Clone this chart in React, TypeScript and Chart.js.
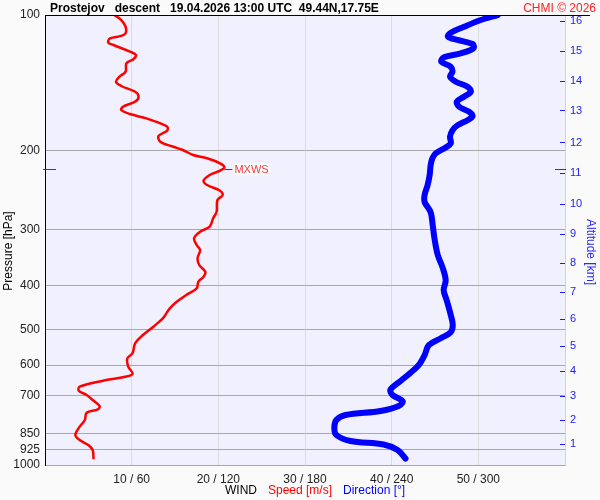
import React, { useEffect, useRef } from "react";
import { Chart, registerables } from "chart.js";

Chart.register(...registerables);

// ---- DATA ----
const speedPressure = [
  100, 102.6, 106.2, 109.8, 111.3, 112.7, 115.2, 116.6, 120.6, 122.7, 125.4, 128.0, 133.6, 137.1, 140.7,
  143.8, 148.1, 151.9, 155.8, 159.9, 162.6, 166.0, 169.7, 173.5, 177.1, 180.7, 185.7, 191.2, 196.2, 199.5,
  204.7, 208.2, 213.6, 218.0, 221.8, 226.8, 233.4, 238.7, 245.7, 251.2, 257.7, 273.6, 283.0, 295.4, 303.1,
  313.5, 324.4, 332.9, 347.3, 359.4, 371.9, 381.5, 391.4, 405.0, 419.1, 433.8, 448.7, 460.3, 472.1, 492.8,
  514.2, 536.5, 564.6, 579.2, 604.6, 627.6, 638.3, 649.5, 669.9, 683.8, 699.0, 717.1, 739.4, 752.0, 765.2,
  794.3, 822.0, 857.7, 880.0, 902.9, 926.4, 966.3,
];
const speedValues = [
  8.0, 8.8, 9.3, 9.3, 8.8, 7.5, 7.3, 7.9, 9.8, 10.5, 10.2, 9.4, 9.3, 8.6, 8.2,
  8.8, 10.4, 10.8, 10.4, 9.0, 8.8, 9.8, 11.7, 13.1, 14.1, 14.1, 13.1, 13.3, 14.8, 15.9,
  17.1, 18.7, 20.2, 20.7, 20.2, 19.0, 18.3, 18.7, 20.2, 20.5, 19.9, 19.8, 19.4, 19.0, 17.9,
  17.2, 17.5, 17.9, 17.6, 17.8, 18.5, 18.3, 17.7, 17.5, 16.3, 15.2, 14.4, 14.0, 13.6, 12.5,
  11.3, 10.4, 10.1, 9.5, 9.6, 10.1, 9.0, 6.7, 4.0, 3.9, 4.8, 5.5, 6.3, 6.1, 4.8,
  4.6, 4.0, 3.5, 4.0, 5.0, 5.5, 5.6,
];

const dirPressure = [
  100, 102.6, 106.2, 109.5, 111.7, 113.6, 116.0, 118.6, 121.7, 124.2, 127.0, 130.3, 133.7, 137.1, 140.7,
  144.3, 148.1, 151.9, 155.8, 159.9, 164.1, 167.8, 171.3, 175.9, 180.4, 186.4, 192.9, 196.9, 202.9, 208.2,
  215.4, 226.8, 238.7, 251.2, 260.2, 274.3, 292.8, 316.2, 341.5, 365.2, 388.6, 408.6, 430.4, 464.2, 488.1,
  507.1, 522.7, 541.6, 570.0, 600.0, 623.5, 650.6, 679.8, 699.0, 721.6, 739.4, 758.6, 774.3, 794.3, 827.5,
  857.7, 884.5, 900.6, 926.4, 967.7,
];
const dirValues = [
  313.5, 301.7, 290.1, 280.9, 279.0, 285.5, 296.0, 296.6, 287.8, 276.2, 274.4, 280.9, 282.1, 280.4, 284.4,
  292.5, 294.8, 290.1, 285.1, 286.7, 293.6, 296.0, 292.5, 285.5, 282.1, 280.4, 280.9, 277.4, 270.5, 268.2,
  267.0, 266.3, 264.9, 262.8, 262.8, 267.0, 268.4, 269.8, 271.9, 275.4, 277.4, 276.0, 278.1, 280.9, 282.3,
  280.9, 274.0, 265.7, 262.8, 258.7, 253.1, 246.2, 239.2, 240.6, 247.6, 244.8, 232.3, 208.0, 201.7, 200.3,
  201.7, 211.5, 234.4, 244.1, 249.6,
];

const pressureTicks = [100, 200, 300, 400, 500, 600, 700, 850, 925, 1000];
const speedGrid = [0, 10, 20, 30, 40, 50, 60];
const speedLabels = [10, 20, 30, 40, 50];
const altitudeKm = [1, 2, 3, 4, 5, 6, 7, 8, 9, 10, 11, 12, 13, 14, 15, 16];
const altitudePressure = [898, 794, 702, 618, 544, 474, 412, 356, 307, 263, 224, 192, 163, 140, 120, 103];
const maxWindSpeed = 20.7;
const maxWindPressure = 220;

const titleText = "Prostejov   descent   19.04.2026 13:00 UTC  49.44N,17.75E";
const creditText = "CHMI \u00a9 2026";

const FONT = '"Liberation Sans", Arial, sans-serif';

const decorPlugin = {
  id: "decor",
  beforeDraw(chart: any) {
    const { ctx, chartArea: a } = chart;
    ctx.save();
    ctx.fillStyle = "#fafafa";
    ctx.fillRect(0, 0, chart.width, chart.height);
    ctx.fillStyle = "#f0f0ff";
    ctx.fillRect(a.left, a.top, a.right - a.left, a.bottom - a.top);
    ctx.restore();
  },
  afterDatasetsDraw(chart: any) {
    const { ctx, chartArea: a, scales } = chart;
    const yS = scales.y;
    const xS = scales.x;
    ctx.save();
    const my = Math.round(yS.getPixelForValue(maxWindPressure)) + 0.5;
    ctx.strokeStyle = "#e00000";
    ctx.lineWidth = 1;
    ctx.beginPath();
    ctx.moveTo(a.left - 2, my);
    ctx.lineTo(a.left + 11, my);
    ctx.moveTo(a.right - 10, my);
    ctx.lineTo(a.right + 1, my);
    const px = xS.getPixelForValue(maxWindSpeed);
    ctx.moveTo(px, my);
    ctx.lineTo(px + 8, my);
    ctx.stroke();
    ctx.font = `11px ${FONT}`;
    const w = ctx.measureText("MXWS").width;
    ctx.fillStyle = "#fbfbfb";
    ctx.fillRect(px + 9, my - 6, w + 3, 12);
    ctx.fillStyle = "#f03c3c";
    ctx.textBaseline = "middle";
    ctx.fillText("MXWS", px + 10, my + 0.5);

    // altitude tick marks (inside)
    const yA = scales.yAlt;
    ctx.strokeStyle = "#1a1aff";
    ctx.beginPath();
    altitudePressure.forEach((p) => {
      const yy = Math.round(yA.getPixelForValue(p)) + 0.5;
      ctx.moveTo(a.right - 5, yy);
      ctx.lineTo(a.right, yy);
    });
    ctx.stroke();
    ctx.restore();
  },
  afterDraw(chart: any) {
    const { ctx, chartArea: a } = chart;
    ctx.save();
    // top line
    ctx.fillStyle = "#000";
    ctx.fillRect(a.left, a.top, 590 - a.left, 1);
    // title
    ctx.font = `bold 12px ${FONT}`;
    ctx.textBaseline = "alphabetic";
    ctx.textAlign = "left";
    ctx.fillText(titleText, 50, 12);
    ctx.font = `12px ${FONT}`;
    ctx.fillStyle = "#ff2020";
    ctx.textAlign = "right";
    ctx.fillText(creditText, 596, 12);
    // bottom title
    ctx.textAlign = "left";
    ctx.textBaseline = "middle";
    let x = 225;
    const parts: [string, string][] = [
      ["WIND", "#000"],
      ["Speed [m/s]", "#ff0000"],
      ["Direction [\u00b0]", "#0000ff"],
    ];
    parts.forEach(([t, c]) => {
      ctx.fillStyle = c;
      ctx.fillText(t, x, 491);
      x += ctx.measureText(t).width + 11;
    });
    // y titles
    ctx.save();
    ctx.translate(8.5, 251);
    ctx.rotate(-Math.PI / 2);
    ctx.textAlign = "center";
    ctx.fillStyle = "#000";
    ctx.fillText("Pressure [hPa]", 0, 0);
    ctx.restore();
    ctx.save();
    ctx.translate(590, 252);
    ctx.rotate(Math.PI / 2);
    ctx.textAlign = "center";
    ctx.fillStyle = "#2a2aff";
    ctx.fillText("Altitude [km]", 0, 0);
    ctx.restore();
    ctx.restore();
  },
};

export default function App() {
  const ref = useRef<HTMLCanvasElement>(null);
  useEffect(() => {
    if (!ref.current) return;
    Chart.defaults.font.family = FONT;
    const speedData = speedPressure.map((p, i) => ({ x: speedValues[i], y: p }));
    const dirData = dirPressure.map((p, i) => ({ x: dirValues[i], y: p }));
    const chart = new Chart(ref.current, {
      type: "scatter",
      data: {
        datasets: [
          {
            label: "Direction",
            data: dirData,
            xAxisID: "xDir",
            yAxisID: "y",
            showLine: true,
            borderColor: "#0000ff",
            backgroundColor: "#0000ff",
            borderWidth: 6,
            pointRadius: 0,
            tension: 0.35,
            borderCapStyle: "round",
            borderJoinStyle: "round",
          } as any,
          {
            label: "Speed",
            data: speedData,
            xAxisID: "x",
            yAxisID: "y",
            showLine: true,
            borderColor: "#ff0000",
            backgroundColor: "#ff0000",
            borderWidth: 2.5,
            pointRadius: 0,
            tension: 0.35,
            borderCapStyle: "round",
            borderJoinStyle: "round",
          } as any,
        ],
      },
      options: {
        responsive: false,
        animation: false,
        layout: { padding: { top: 15, left: 0, right: 0, bottom: 0 } },
        plugins: { legend: { display: false }, tooltip: { enabled: false } },
        scales: {
          x: {
            type: "linear",
            position: "bottom",
            min: 0,
            max: 60,
            afterBuildTicks: (s: any) => {
              s.ticks = speedGrid.map((v) => ({ value: v }));
            },
            ticks: {
              callback: (v: any) => (speedLabels.includes(Number(v)) ? `${v} / ${Number(v) * 6}` : ""),
              padding: 7,
              color: "#222",
              font: { size: 12 },
              maxRotation: 0,
              autoSkip: false,
            },
            grid: { color: "#dcdcdc", drawTicks: false },
            border: { display: false },
            afterFit: (s: any) => {
              s.height = 35;
            },
          },
          xDir: { type: "linear", display: false, min: 0, max: 360 },
          y: {
            type: "logarithmic",
            position: "left",
            reverse: true,
            min: 100,
            max: 1000,
            afterBuildTicks: (s: any) => {
              s.ticks = pressureTicks.map((v) => ({ value: v }));
            },
            ticks: {
              callback: (v: any) => String(v),
              padding: 5,
              color: "#222",
              font: { size: 12 },
              autoSkip: false,
            },
            grid: { color: "#a8a8a8", drawTicks: false },
            border: { color: "#000", width: 1 },
            afterFit: (s: any) => {
              s.width = 45;
            },
          },
          yAlt: {
            type: "logarithmic",
            position: "right",
            reverse: true,
            min: 100,
            max: 1000,
            afterBuildTicks: (s: any) => {
              s.ticks = altitudePressure.map((v) => ({ value: v }));
            },
            ticks: {
              callback: (v: any) => {
                const i = altitudePressure.indexOf(Number(v));
                return i >= 0 ? String(altitudeKm[i]) : "";
              },
              padding: 5,
              color: "#2020ff",
              font: { size: 11 },
              autoSkip: false,
            },
            grid: { drawOnChartArea: false, drawTicks: false },
            border: { color: "#d4d4d4", width: 1 },
            afterFit: (s: any) => {
              s.width = 35;
            },
          },
        } as any,
      },
      plugins: [decorPlugin],
    });
    return () => chart.destroy();
  }, []);
  return (
    <div style={{ position: "absolute", left: 0, top: 0, width: 600, height: 500 }}>
      <canvas ref={ref} width={600} height={500} style={{ display: "block" }} />
    </div>
  );
}
